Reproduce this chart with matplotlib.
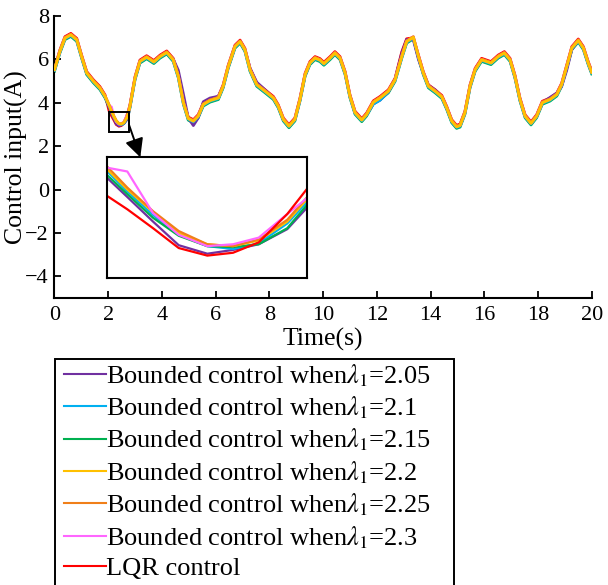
import numpy as np
import matplotlib
matplotlib.use('Agg')
import matplotlib.pyplot as plt
from matplotlib.patches import Rectangle

plt.rcParams['font.family'] = ['Liberation Serif', 'DejaVu Serif']
plt.rcParams['mathtext.fontset'] = 'stix'

# data
t = [0.0, 0.2, 0.39, 0.61, 0.83, 1.01, 1.2, 1.45, 1.69, 1.88,
     2.05, 2.12, 2.21, 2.30, 2.40, 2.49, 2.58, 2.68, 2.75,
     2.81, 3.0, 3.18, 3.43, 3.7, 3.93, 4.18, 4.42, 4.61, 4.8,
     4.98, 5.17, 5.35, 5.54, 5.79, 6.1, 6.28, 6.47, 6.72, 6.91,
     7.09, 7.28, 7.53, 7.84, 8.15, 8.33, 8.52, 8.73, 8.95, 9.14,
     9.33, 9.51, 9.7, 9.88, 10.03, 10.26, 10.44, 10.63, 10.82, 11.0,
     11.19, 11.44, 11.62, 11.87, 12.12, 12.43, 12.68, 12.93, 13.11, 13.36,
     13.55, 13.73, 13.92, 14.17, 14.42, 14.6, 14.79, 14.97, 15.1, 15.28,
     15.47, 15.66, 15.9, 16.25, 16.52, 16.75, 16.96, 17.14, 17.33, 17.52,
     17.74, 17.95, 18.16, 18.45, 18.7, 18.88, 19.07, 19.26, 19.5, 19.69,
     19.87, 20.0]

u_205 = [5.52, 6.36, 6.98, 7.13, 6.90, 6.13, 5.37, 4.99, 4.68, 4.30,
         3.74, 3.54, 3.28, 3.03, 2.94, 2.98, 3.04, 3.20, 3.43,
         3.84, 5.14, 5.90, 6.10, 5.88, 6.13, 6.32, 6.02, 5.50, 4.40,
         3.30, 2.95, 3.30, 4.05, 4.22, 4.30, 4.76, 5.67, 6.59, 6.82,
         6.44, 5.60, 4.95, 4.60, 4.22, 3.84, 3.23, 2.92, 3.23, 4.15,
         5.29, 5.83, 6.06, 5.97, 5.80, 6.06, 6.29, 6.06, 5.37, 4.30,
         3.54, 3.20, 3.46, 3.95, 4.12, 4.50, 5.10, 6.30, 6.92, 6.90,
         6.00, 5.37, 4.80, 4.60, 4.27, 3.77, 3.15, 2.89, 2.95, 3.54,
         4.76, 5.52, 5.98, 5.83, 6.13, 6.29, 5.98, 5.22, 4.15, 3.38,
         3.05, 3.38, 4.00, 4.25, 4.45, 4.75, 5.50, 6.45, 6.87, 6.52,
         5.83, 5.40]

u_21 = [5.49, 6.33, 6.95, 7.10, 6.87, 6.10, 5.34, 4.96, 4.65, 4.27,
        3.81, 3.60, 3.35, 3.14, 3.02, 2.99, 3.05, 3.26, 3.49,
        3.81, 5.11, 5.87, 6.07, 5.85, 6.10, 6.29, 5.95, 5.19, 3.97,
        3.24, 3.12, 3.35, 3.89, 4.07, 4.19, 4.73, 5.64, 6.56, 6.79,
        6.41, 5.49, 4.80, 4.50, 4.19, 3.81, 3.20, 2.89, 3.20, 4.12,
        5.26, 5.80, 6.03, 5.94, 5.77, 6.03, 6.26, 6.03, 5.34, 4.27,
        3.51, 3.17, 3.43, 3.94, 4.12, 4.50, 5.03, 6.10, 6.79, 6.99,
        6.10, 5.34, 4.73, 4.50, 4.24, 3.74, 3.12, 2.86, 2.92, 3.51,
        4.73, 5.49, 5.95, 5.80, 6.10, 6.26, 5.95, 5.19, 4.12, 3.35,
        3.02, 3.35, 3.97, 4.12, 4.35, 4.80, 5.64, 6.49, 6.84, 6.49,
        5.80, 5.37]

u_215 = [5.45, 6.29, 6.91, 7.06, 6.83, 6.06, 5.30, 4.92, 4.61, 4.23,
         3.77, 3.57, 3.32, 3.13, 3.02, 3.01, 3.04, 3.21, 3.46,
         3.77, 5.07, 5.83, 6.03, 5.81, 6.06, 6.25, 5.91, 5.15, 3.93,
         3.20, 3.08, 3.31, 3.85, 4.03, 4.15, 4.69, 5.60, 6.52, 6.75,
         6.37, 5.45, 4.76, 4.46, 4.15, 3.77, 3.16, 2.85, 3.16, 4.08,
         5.22, 5.76, 5.99, 5.90, 5.73, 5.99, 6.22, 5.99, 5.30, 4.23,
         3.47, 3.13, 3.39, 3.95, 4.15, 4.46, 4.99, 6.06, 6.75, 6.95,
         6.06, 5.30, 4.69, 4.46, 4.20, 3.70, 3.08, 2.82, 2.88, 3.47,
         4.69, 5.45, 5.91, 5.76, 6.06, 6.22, 5.91, 5.15, 4.08, 3.31,
         2.98, 3.31, 3.93, 4.08, 4.31, 4.76, 5.60, 6.45, 6.80, 6.45,
         5.76, 5.33]

u_22 = [5.52, 6.36, 6.98, 7.13, 6.90, 6.13, 5.37, 4.99, 4.68, 4.30,
        3.83, 3.62, 3.38, 3.16, 3.04, 3.02, 3.08, 3.28, 3.52,
        3.84, 5.14, 5.90, 6.10, 5.88, 6.13, 6.32, 5.98, 5.22, 4.00,
        3.27, 3.15, 3.38, 3.92, 4.10, 4.22, 4.76, 5.67, 6.59, 6.82,
        6.44, 5.52, 4.83, 4.53, 4.22, 3.84, 3.23, 2.92, 3.23, 4.15,
        5.29, 5.83, 6.06, 5.97, 5.80, 6.06, 6.29, 6.06, 5.37, 4.30,
        3.54, 3.20, 3.46, 4.02, 4.22, 4.53, 5.06, 6.13, 6.82, 7.02,
        6.13, 5.37, 4.76, 4.53, 4.27, 3.77, 3.15, 2.89, 2.95, 3.54,
        4.76, 5.52, 5.98, 5.83, 6.13, 6.29, 5.98, 5.22, 4.15, 3.38,
        3.05, 3.38, 4.00, 4.15, 4.38, 4.83, 5.67, 6.52, 6.87, 6.52,
        5.83, 5.40]

u_225 = [5.55, 6.39, 7.01, 7.16, 6.93, 6.16, 5.40, 5.02, 4.71, 4.33,
         3.86, 3.64, 3.39, 3.18, 3.04, 3.02, 3.09, 3.30, 3.54,
         3.87, 5.17, 5.93, 6.13, 5.91, 6.16, 6.35, 6.01, 5.25, 4.03,
         3.30, 3.18, 3.41, 3.95, 4.13, 4.25, 4.79, 5.70, 6.62, 6.85,
         6.47, 5.55, 4.86, 4.56, 4.25, 3.87, 3.26, 2.95, 3.26, 4.18,
         5.32, 5.86, 6.09, 6.00, 5.83, 6.09, 6.32, 6.09, 5.40, 4.33,
         3.57, 3.23, 3.49, 4.05, 4.25, 4.56, 5.09, 6.16, 6.85, 7.05,
         6.16, 5.40, 4.79, 4.56, 4.30, 3.80, 3.18, 2.92, 2.98, 3.57,
         4.79, 5.55, 6.01, 5.86, 6.16, 6.32, 6.01, 5.25, 4.18, 3.41,
         3.08, 3.41, 4.03, 4.18, 4.41, 4.86, 5.70, 6.55, 6.90, 6.55,
         5.86, 5.43]

u_23 = [5.54, 6.38, 7.00, 7.15, 6.92, 6.15, 5.39, 5.01, 4.70, 4.32,
        3.85, 3.81, 3.37, 3.14, 3.02, 3.04, 3.11, 3.36, 3.53,
        3.86, 5.16, 5.92, 6.12, 5.90, 6.15, 6.34, 6.00, 5.24, 4.02,
        3.29, 3.17, 3.40, 3.94, 4.12, 4.24, 4.78, 5.69, 6.61, 6.84,
        6.46, 5.54, 4.85, 4.55, 4.24, 3.86, 3.25, 2.94, 3.25, 4.17,
        5.31, 5.85, 6.08, 5.99, 5.82, 6.08, 6.31, 6.08, 5.39, 4.32,
        3.56, 3.22, 3.48, 4.04, 4.24, 4.55, 5.08, 6.15, 6.84, 7.04,
        6.15, 5.39, 4.78, 4.55, 4.29, 3.79, 3.17, 2.91, 2.97, 3.56,
        4.78, 5.54, 6.00, 5.85, 6.15, 6.31, 6.00, 5.24, 4.17, 3.40,
        3.07, 3.40, 4.02, 4.17, 4.40, 4.85, 5.69, 6.54, 6.89, 6.54,
        5.85, 5.42]

u_lqr = [5.59, 6.43, 7.05, 7.20, 6.97, 6.20, 5.44, 5.06, 4.75, 4.37,
         3.55, 3.41, 3.21, 3.00, 2.92, 2.95, 3.06, 3.36, 3.63,
         3.91, 5.21, 5.97, 6.17, 5.95, 6.20, 6.39, 6.05, 5.29, 4.07,
         3.34, 3.22, 3.45, 3.99, 4.17, 4.29, 4.83, 5.74, 6.66, 6.89,
         6.51, 5.59, 4.90, 4.60, 4.29, 3.91, 3.30, 2.99, 3.30, 4.22,
         5.36, 5.90, 6.13, 6.04, 5.87, 6.13, 6.36, 6.13, 5.44, 4.37,
         3.61, 3.27, 3.53, 4.09, 4.29, 4.60, 5.13, 6.35, 6.95, 7.00,
         6.20, 5.44, 4.83, 4.60, 4.34, 3.84, 3.22, 2.96, 3.02, 3.61,
         4.83, 5.59, 6.05, 5.90, 6.20, 6.36, 6.05, 5.29, 4.22, 3.45,
         3.12, 3.45, 4.07, 4.22, 4.45, 4.90, 5.74, 6.59, 6.94, 6.59,
         5.90, 5.47]

labels = [r'Bounded control when$\lambda_1$=2.05',
          r'Bounded control when$\lambda_1$=2.1',
          r'Bounded control when$\lambda_1$=2.15',
          r'Bounded control when$\lambda_1$=2.2',
          r'Bounded control when$\lambda_1$=2.25',
          r'Bounded control when$\lambda_1$=2.3',
          'LQR control']
series = [u_205, u_21, u_215, u_22, u_225, u_23, u_lqr]
colors = ['#7030A0', '#00B0F0', '#00B050', '#FFC000', '#F07F19', '#FF66FF', '#FF0000']

# %%
W, H = 608, 585
fig = plt.figure(figsize=(W / 100, H / 100), dpi=100)
ax = fig.add_axes([0.0896, 0.4906, 0.8836, 0.482])

zorders = [3, 4, 2, 8, 6, 5, 1]
for y, c, lab, z in zip(series, colors, labels, zorders):
    ax.plot(t, y, color=c, lw=2.0, label=lab, zorder=z)

ax.set_xlim(0, 20)
ax.set_ylim(-5, 8)
ax.set_xticks(np.arange(0, 21, 2))
ax.set_yticks(np.arange(-4, 9, 2))
ax.spines['top'].set_visible(False)
ax.spines['right'].set_visible(False)
for s in ['left', 'bottom']:
    ax.spines[s].set_linewidth(1.5)
ax.tick_params(direction='in', length=5, width=1.3, labelsize=16)
ax.tick_params(axis='x', pad=6)
ax.tick_params(axis='y', pad=4)
ax.set_xlabel('Time(s)', fontsize=18.5)
ax.set_ylabel('Control input(A)', fontsize=18.5)
ax.xaxis.set_label_coords(0.5, -0.106)
ax.yaxis.set_label_coords(-0.05, 0.5)

# zoom box + inset
ax.add_patch(Rectangle((2.04, 2.65), 0.74, 0.91, fill=False, ec='k', lw=1.4, zorder=10))

axin = fig.add_axes([0.1765, 0.5243, 0.3289, 0.2068])
for y, c in zip(series, colors):
    axin.plot(t, y, color=c, lw=1.6)
axin.set_xlim(2.05, 2.75)
axin.set_ylim(2.68, 3.96)
axin.set_xticks([])
axin.set_yticks([])
for s in axin.spines.values():
    s.set_linewidth(1.5)

axin.annotate('', xy=(0.165, 1.0), xycoords=axin.transAxes,
              xytext=(2.77, 3.0), textcoords=ax.transData,
              arrowprops=dict(arrowstyle='-|>', color='k', lw=1.4,
                              mutation_scale=28, shrinkA=0, shrinkB=0))

# legend, with its own square frame
h, l = ax.get_legend_handles_labels()
leg = fig.legend(h, l, loc='upper left', bbox_to_anchor=(64 / W, 1 - 362 / H),
                 fontsize=19, frameon=False,
                 handlelength=1.6, handletextpad=0.0, labelspacing=0.22,
                 borderpad=0, borderaxespad=0)
for line in leg.get_lines():
    line.set_linewidth(1.5)
fig.patches.append(Rectangle((55 / W, -0.02), (454 - 55) / W, 1 - 359 / H + 0.02,
                             transform=fig.transFigure, fill=False, ec='k', lw=1.4))

plt.savefig('out.png', dpi=100)
